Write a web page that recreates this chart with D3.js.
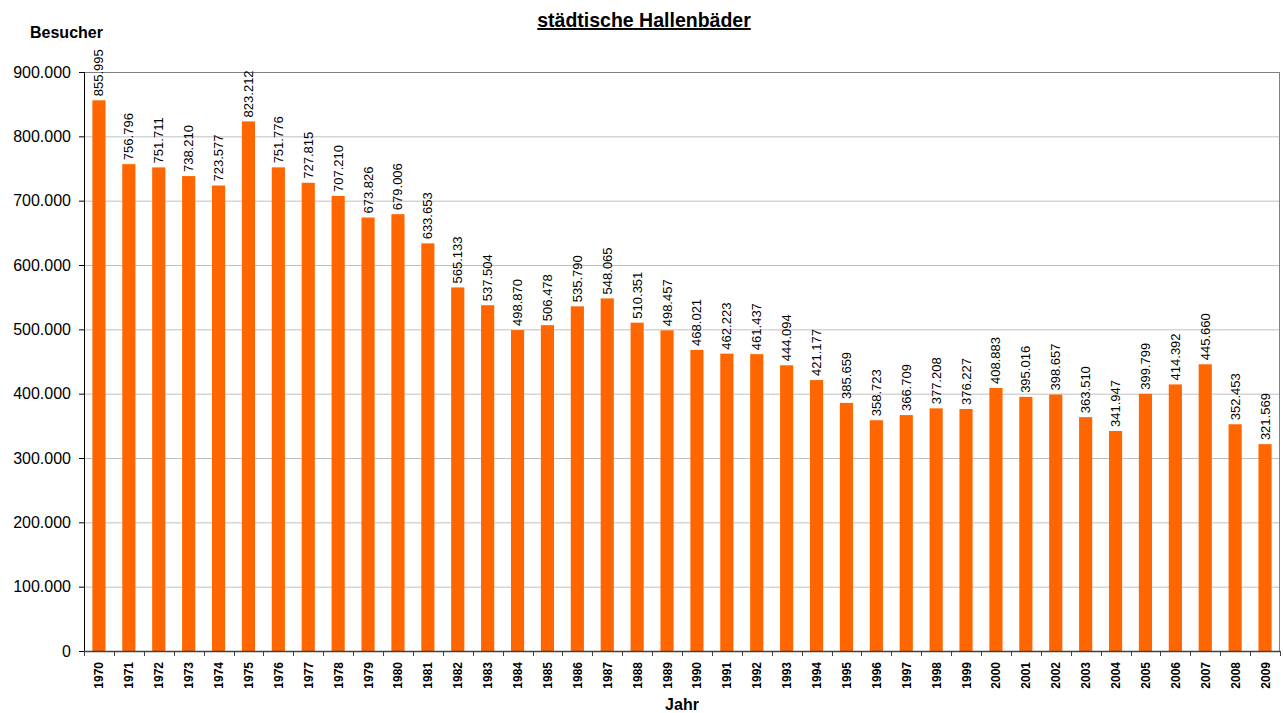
<!DOCTYPE html>
<html>
<head>
<meta charset="utf-8">
<script src="https://cdn.jsdelivr.net/npm/d3@7"></script>
<style>
  body { margin: 0; background: #fff; }
  svg { display: block; font-family: "Liberation Sans", Arial, sans-serif; }
</style>
</head>
<body>
<div id="chart"></div>
<script>
// Besucher der städtischen Hallenbäder pro Jahr
var years = ["1970","1971","1972","1973","1974","1975","1976","1977","1978","1979",
             "1980","1981","1982","1983","1984","1985","1986","1987","1988","1989",
             "1990","1991","1992","1993","1994","1995","1996","1997","1998","1999",
             "2000","2001","2002","2003","2004","2005","2006","2007","2008","2009"];
var visitors = [855995, 756796, 751711, 738210, 723577, 823212, 751776, 727815, 707210, 673826,
                679006, 633653, 565133, 537504, 498870, 506478, 535790, 548065, 510351, 498457,
                468021, 462223, 461437, 444094, 421177, 385659, 358723, 366709, 377208, 376227,
                408883, 395016, 398657, 363510, 341947, 399799, 414392, 445660, 352453, 321569];
var yTicks = [0, 100000, 200000, 300000, 400000, 500000, 600000, 700000, 800000, 900000];

var width = 1283, height = 713;
var margin = {top: 72, right: 3, bottom: 62, left: 84};
var innerW = width - margin.left - margin.right;
var innerH = height - margin.top - margin.bottom;

var de = d3.formatLocale({decimal: ",", thousands: ".", grouping: [3], currency: ["", " €"]});
var fmt = de.format(",");

var svg = d3.select("#chart").append("svg")
    .attr("width", width)
    .attr("height", height);

var g = svg.append("g")
    .attr("transform", "translate(" + margin.left + "," + margin.top + ")");

var x = d3.scaleBand()
    .domain(years)
    .range([0, innerW])
    .paddingInner(0.56)
    .paddingOuter(0.28);

var y = d3.scaleLinear()
    .domain([0, 900000])
    .range([innerH, 0]);

// gridlines
g.append("g")
    .selectAll("line")
    .data(yTicks.filter(d => d > 0))
    .join("line")
    .attr("x1", 0)
    .attr("x2", innerW)
    .attr("y1", d => y(d) + 0.5)
    .attr("y2", d => y(d) + 0.5)
    .attr("stroke", d => d === 900000 ? "#808080" : "#c0c0c0")
    .attr("stroke-width", 1);

// right border of plot area
g.append("line")
    .attr("x1", innerW - 0.5).attr("x2", innerW - 0.5)
    .attr("y1", 0).attr("y2", innerH)
    .attr("stroke", "#808080");

// bars
g.append("g")
    .selectAll("rect")
    .data(years)
    .join("rect")
    .attr("x", d => x(d))
    .attr("width", x.bandwidth())
    .attr("y", (d, i) => y(visitors[i]))
    .attr("height", (d, i) => innerH - y(visitors[i]))
    .attr("fill", "#ff6600");

// value labels
g.append("g")
    .selectAll("text")
    .data(years)
    .join("text")
    .attr("transform", (d, i) => "translate(" + (x(d) + x.bandwidth() / 2 + 4.5) + "," + (y(visitors[i]) - 4) + ") rotate(-90)")
    .attr("text-anchor", "start")
    .attr("font-size", "13px")
    .attr("fill", "#000")
    .text((d, i) => fmt(visitors[i]));

// y axis
var yAxis = d3.axisLeft(y)
    .tickValues(yTicks)
    .tickSize(5)
    .tickPadding(8)
    .tickFormat(d => fmt(d));

var yg = g.append("g").call(yAxis);
yg.select(".domain").attr("stroke", "#000").attr("d", "M0.5,0V" + innerH);
yg.selectAll(".tick line").attr("stroke", "#000");
yg.selectAll("text")
    .attr("font-size", "16px")
    .attr("font-family", "Liberation Sans, Arial, sans-serif")
    .attr("fill", "#000");

// x axis: ticks between categories
var step = x.step();
g.append("line")
    .attr("x1", 0).attr("x2", innerW)
    .attr("y1", innerH + 0.5).attr("y2", innerH + 0.5)
    .attr("stroke", "#404040")
    .attr("stroke-width", 1.5);

g.append("g")
    .selectAll("line")
    .data(years.concat(["end"]))
    .join("line")
    .attr("x1", (d, i) => Math.round(i * step) + 0.5)
    .attr("x2", (d, i) => Math.round(i * step) + 0.5)
    .attr("y1", innerH)
    .attr("y2", innerH + 5)
    .attr("stroke", "#404040");

g.append("g")
    .selectAll("text")
    .data(years)
    .join("text")
    .attr("transform", d => "translate(" + (x(d) + x.bandwidth() / 2 + 4.5) + "," + (innerH + 11) + ") rotate(-90)")
    .attr("text-anchor", "end")
    .attr("font-size", "12px")
    .attr("font-weight", "bold")
    .text(d => d);

// titles
svg.append("text")
    .attr("x", 644)
    .attr("y", 27)
    .attr("text-anchor", "middle")
    .attr("font-size", "19.5px")
    .attr("font-weight", "bold")
    .attr("text-decoration", "underline")
    .text("städtische Hallenbäder");

svg.append("text")
    .attr("x", 30)
    .attr("y", 38)
    .attr("font-size", "16px")
    .attr("font-weight", "bold")
    .text("Besucher");

svg.append("text")
    .attr("x", 682)
    .attr("y", 710)
    .attr("text-anchor", "middle")
    .attr("font-size", "16px")
    .attr("font-weight", "bold")
    .text("Jahr");
</script>
</body>
</html>
